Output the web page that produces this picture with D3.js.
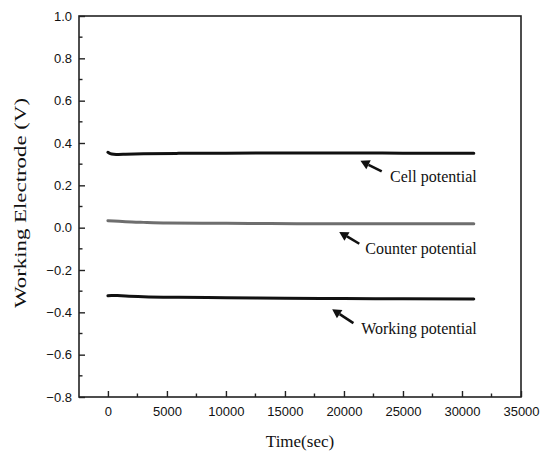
<!DOCTYPE html>
<html><head><meta charset="utf-8">
<script src="https://cdn.jsdelivr.net/npm/d3@7/dist/d3.min.js"></script>
<style>body{margin:0;background:#fff}svg{display:block}</style>
</head><body><svg id="c" width="548" height="454"></svg>
<script>
const xTicks = [0,5000,10000,15000,20000,25000,30000,35000];
const yTicks = [-0.8,-0.6,-0.4,-0.2,0.0,0.2,0.4,0.6,0.8,1.0];
const seriesNames = ["Cell potential","Counter potential","Working potential"];
const cellT =    [0,200,500,900,1500,3000,6000,10000,15000,20000,25000,31000];
const cellV =    [0.356,0.350,0.347,0.346,0.347,0.349,0.351,0.352,0.353,0.353,0.352,0.352];
const counterT = [0,500,1500,3000,5000,8000,12000,16000,20000,25000,31000];
const counterV = [0.033,0.031,0.028,0.025,0.022,0.021,0.020,0.019,0.019,0.018,0.018];
const workingT = [0,300,800,1500,3000,6000,10000,15000,20000,25000,31000];
const workingV = [-0.322,-0.320,-0.321,-0.323,-0.326,-0.329,-0.331,-0.333,-0.335,-0.336,-0.337];
const seriesColors = ["#111","#6e6e6e","#111"];
// annotation anchors in data units: [time, value]
const annHead = [[21400,0.316],[19600,-0.020],[19000,-0.385]];
const annTail = [[23200,0.266],[21300,-0.076],[20800,-0.451]];
const annTextPos = [[31250,0.216],[31250,-0.124],[31250,-0.501]];

const svg = d3.select("#c");
const L=79, R=521, T=16, B=397;
const x = d3.scaleLinear().domain([-2450,35000]).range([L,R]);
const y = d3.scaleLinear().domain([-0.8,1.0]).range([B,T]);
const SERIF = "'Liberation Serif', 'Times New Roman', Times, serif";
const SANS = "'Liberation Sans', Arial, Helvetica, sans-serif";

svg.append("rect").attr("x",L).attr("y",T).attr("width",R-L).attr("height",B-T)
  .attr("fill","none").attr("stroke","#222").attr("stroke-width",1.6);

const xMinor = d3.range(2500,35000,5000);
const gx = svg.append("g").attr("transform",`translate(0,${B})`);
gx.call(d3.axisBottom(x).tickValues(xTicks).tickSize(-6).tickFormat(d=>d3.format("d")(d)).tickPadding(10));
gx.select(".domain").remove();
gx.selectAll(".tick line").attr("stroke","#222").attr("stroke-width",1.4);
gx.selectAll("text").attr("font-family",SANS).attr("font-size",13).attr("fill","#111");
gx.selectAll(".minor").data(xMinor).enter().append("line")
  .attr("x1",d=>x(d)).attr("x2",d=>x(d)).attr("y1",0).attr("y2",-3.5).attr("stroke","#222").attr("stroke-width",1.4);

const yMinor = d3.range(-7,10,2).map(v=>v/10);
const gy = svg.append("g").attr("transform",`translate(${L},0)`);
gy.call(d3.axisLeft(y).tickValues(yTicks).tickSize(-6).tickFormat(d3.format(".1f")).tickPadding(7));
gy.select(".domain").remove();
gy.selectAll(".tick line").attr("stroke","#222").attr("stroke-width",1.4);
gy.selectAll("text").attr("font-family",SANS).attr("font-size",13).attr("fill","#111");
gy.selectAll(".minor").data(yMinor).enter().append("line")
  .attr("y1",d=>y(d)).attr("y2",d=>y(d)).attr("x1",0).attr("x2",3.5).attr("stroke","#222").attr("stroke-width",1.4);

svg.append("text").attr("x",300).attr("y",447).attr("text-anchor","middle")
  .attr("font-family",SERIF).attr("font-size",17).attr("fill","#111").text("Time(sec)");
svg.append("text").attr("transform","translate(26,203) rotate(-90)").attr("text-anchor","middle")
  .attr("font-family",SERIF).attr("font-size",17).attr("fill","#111")
  .attr("textLength",210).attr("lengthAdjust","spacingAndGlyphs").text("Working Electrode (V)");

const line = d3.line().x(d=>x(d[0])).y(d=>y(d[1])).curve(d3.curveMonotoneX);
const series = [d3.zip(cellT,cellV), d3.zip(counterT,counterV), d3.zip(workingT,workingV)];
series.forEach((s,i)=>{
  svg.append("path").datum(s).attr("d",line).attr("fill","none")
    .attr("stroke",seriesColors[i]).attr("stroke-width",3).attr("stroke-linecap","round");
});

seriesNames.forEach((name,i)=>{
  const hx=x(annHead[i][0]), hy=y(annHead[i][1]), tx=x(annTail[i][0]), ty=y(annTail[i][1]);
  const ang=Math.atan2(hy-ty,hx-tx);
  const hl=9, hw=5;
  const bx=hx-hl*Math.cos(ang), by=hy-hl*Math.sin(ang);
  svg.append("line").attr("x1",tx).attr("y1",ty).attr("x2",bx).attr("y2",by).attr("stroke","#111").attr("stroke-width",2.6);
  const px=-Math.sin(ang), py=Math.cos(ang);
  svg.append("path").attr("d",`M${hx},${hy}L${bx+px*hw},${by+py*hw}L${bx-px*hw},${by-py*hw}Z`).attr("fill","#111");
  svg.append("text").attr("x",x(annTextPos[i][0])).attr("y",y(annTextPos[i][1])).attr("text-anchor","end")
    .attr("font-family",SERIF).attr("font-size",16).attr("fill","#111").text(name);
});
</script></body></html>
